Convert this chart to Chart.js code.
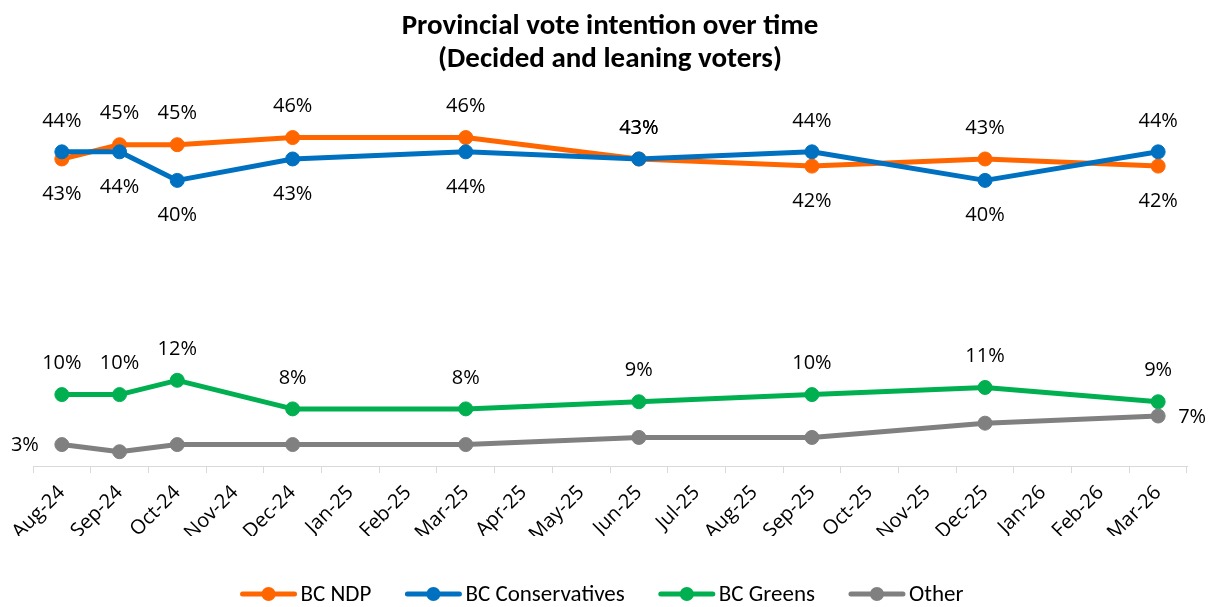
<!DOCTYPE html>
<html><head><meta charset="utf-8">
<script src="https://cdn.jsdelivr.net/npm/chart.js@4.4.1/dist/chart.umd.min.js"></script>
<style>html,body{margin:0;padding:0;background:#fff;}#wrap{width:1217px;height:607px;}</style>
</head><body><div id="wrap"><canvas id="c" width="1217" height="607"></canvas></div>
<script>
const categories = ['Aug-24','Sep-24','Oct-24','Nov-24','Dec-24','Jan-25','Feb-25','Mar-25','Apr-25','May-25','Jun-25','Jul-25','Aug-25','Sep-25','Oct-25','Nov-25','Dec-25','Jan-26','Feb-26','Mar-26'];
const surveyMonths = ['Aug-24','Sep-24','Oct-24','Dec-24','Mar-25','Jun-25','Sep-25','Dec-25','Mar-26'];
const ndp = [43,45,45,46,46,43,42,43,42];
const conservatives = [44,44,40,43,44,43,44,40,44];
const greens = [10,10,12,8,8,9,10,11,9];
const other = [3,2,3,3,3,4,4,6,7];
const seriesNames = ['BC NDP','BC Conservatives','BC Greens','Other'];
const titleLines = ['Provincial vote intention over time','(Decided and leaning voters)'];

// label placement (style only)
const ndpLabelPos = ['below','above','above','above','above','above','below','above','below'];
const consLabelPos = ['above','below','below','below','below','above','above','below','above'];
const greensLabelPos = ['above','above','above','above','above','above','above','above','above'];
const otherLabelPos = ['left',null,null,null,null,null,null,null,'right'];

const colors = ['#FF6600','#0070C0','#00B050','#808080'];
const FONT = 'Open Sans';

function toPoints(vals){ return vals.map((v,i)=>({x: surveyMonths[i], y: v})); }
function mkDs(i, vals, pos, order){
  return {
    label: seriesNames[i], data: toPoints(vals), labelPos: pos, order: order,
    borderColor: colors[i], backgroundColor: colors[i],
    pointBackgroundColor: colors[i], pointBorderColor: colors[i],
    borderWidth: 5, pointRadius: 7, pointBorderWidth: 1, pointHoverRadius: 7,
    tension: 0, fill: false, borderJoinStyle: 'round', borderCapStyle: 'round'
  };
}

const dataLabels = {
  id: 'dataLabels',
  afterDatasetsDraw(chart){
    const ctx = chart.ctx;
    ctx.save();
    ctx.font = '20px "' + FONT + '"';
    ctx.fillStyle = '#000';
    ctx.textBaseline = 'middle';
    chart.data.datasets.forEach((ds, i) => {
      const meta = chart.getDatasetMeta(i);
      meta.data.forEach((pt, j) => {
        const pos = ds.labelPos[j];
        if (!pos) return;
        const txt = ds.data[j].y + '%';
        let x = pt.x, y = pt.y;
        if (pos === 'above') { ctx.textAlign = 'center'; y -= 31; }
        else if (pos === 'below') { ctx.textAlign = 'center'; y += 35; }
        else if (pos === 'left') { ctx.textAlign = 'right'; x -= 23; y += 1; }
        else if (pos === 'right') { ctx.textAlign = 'left'; x += 20; y += 1; }
        ctx.fillText(txt, x, y);
      });
    });
    ctx.restore();
  }
};

const customLegend = {
  id: 'customLegend',
  afterDraw(chart){
    const ctx = chart.ctx;
    ctx.save();
    ctx.font = '23px Carlito';
    ctx.textBaseline = 'middle';
    const markerW = 56, textGap = 4, itemGap = 34, y = 594;
    const items = chart.data.datasets.map((ds) => ({label: ds.label, color: ds.borderColor, w: markerW + textGap + ctx.measureText(ds.label).width}));
    const total = items.reduce((s, it) => s + it.w, 0) + itemGap * (items.length - 1);
    let x = 602 - total / 2;
    items.forEach((it) => {
      ctx.strokeStyle = it.color; ctx.lineWidth = 5; ctx.lineCap = 'round';
      ctx.beginPath(); ctx.moveTo(x + 2, y); ctx.lineTo(x + markerW - 2, y); ctx.stroke();
      ctx.fillStyle = it.color;
      ctx.beginPath(); ctx.arc(x + markerW / 2, y, 7, 0, Math.PI * 2); ctx.fill();
      ctx.fillStyle = '#000'; ctx.textAlign = 'left';
      ctx.fillText(it.label, x + markerW + textGap, y + 1);
      x += it.w + itemGap;
    });
    ctx.restore();
  }
};

new Chart(document.getElementById('c'), {
  type: 'line',
  data: {
    labels: categories,
    datasets: [
      mkDs(0, ndp, ndpLabelPos, 1),
      mkDs(1, conservatives, consLabelPos, 0),
      mkDs(2, greens, greensLabelPos, 3),
      mkDs(3, other, otherLabelPos, 2)
    ]
  },
  options: {
    responsive: false, animation: false, devicePixelRatio: 1,
    layout: { padding: { left: 33, right: 30, top: 0, bottom: 71 } },
    plugins: {
      title: { display: true, text: titleLines, color: '#000',
        font: { family: 'Carlito', weight: 'bold', size: 29, lineHeight: 33/29 },
        padding: { top: 10, bottom: 33 } },
      legend: { display: false },
      tooltip: { enabled: false }
    },
    scales: {
      x: {
        type: 'category', offset: true,
        grid: { display: true, offset: true, drawOnChartArea: false, drawTicks: true, tickLength: 7, color: '#D9D9D9', lineWidth: 1 },
        border: { display: true, color: '#D9D9D9', width: 1 },
        ticks: { autoSkip: false, minRotation: 45, maxRotation: 45, color: '#000', padding: 8, font: { family: FONT, size: 20 } },
        afterFit(s){ s.height = 70; }
      },
      y: { display: false, min: 0, max: 50 }
    }
  },
  plugins: [dataLabels, customLegend]
});
</script></body></html>
